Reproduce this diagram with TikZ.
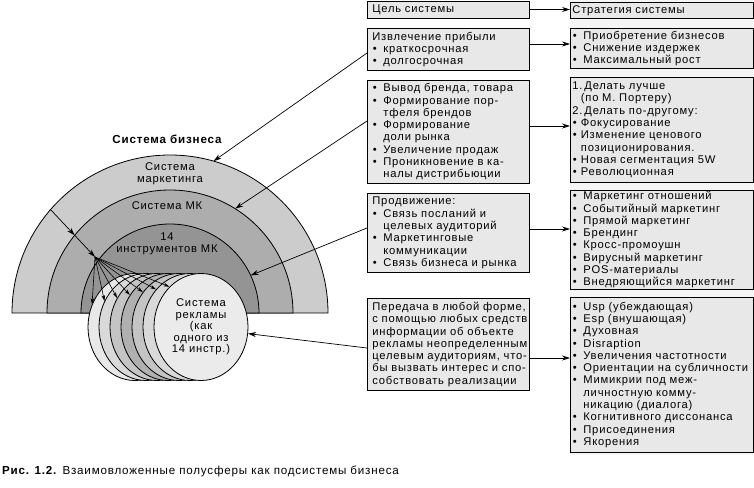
\documentclass[tikz,border=0pt]{standalone}
\usepackage{fontspec}
\setmainfont{Liberation Sans}[LetterSpace=7]
\usetikzlibrary{arrows.meta,calc,shapes.geometric}
\newcommand\fs{\fontsize{11.2}{12.3}\selectfont}
\newcommand\fl{\fontsize{11.6}{12.3}\selectfont}
\newlength\bind
\newcommand\bi[1]{\mbox{\makebox[\bind][l]{\hspace{0.5pt}\textbullet}#1}}
\newcommand\ci[1]{\mbox{\hspace*{\bind}#1}}
\newcommand\tl[1]{\mbox{#1}}
\tikzset{
  every node/.style={font=\fs, inner sep=0pt},
  lbox/.style={draw, fill=black!9, line width=0.8pt, anchor=north west,
    text width=152pt, inner xsep=5pt, inner ysep=1pt, align=left,
    execute at begin node={\setlength{\bind}{11pt}}},
  rbox/.style={draw, fill=black!9, line width=0.8pt, anchor=north west,
    text width=179pt, inner xsep=2pt, inner ysep=1pt, align=left,
    execute at begin node={\setlength{\bind}{11pt}}},
  arr/.style={-{Stealth[length=8pt,width=5pt]}, line width=0.7pt},
  farr/.style={-{Stealth[length=6pt,width=3.6pt]}, line width=0.6pt},
  ring/.style={draw, line width=0.8pt},
  ell/.style={ellipse, draw, line width=0.8pt, minimum width=94pt, minimum height=107pt, align=center},
}
\begin{document}
\begin{tikzpicture}[x=1pt,y=1pt]
\useasboundingbox (0,0) rectangle (754,-487);
% faint right column background
\fill[black!4] (570,0) rectangle (753,-455);
% half-spheres
\coordinate (C) at (170,-313);
\filldraw[ring, fill=black!20] ($(C)+(-158,0)$) arc[start angle=180, end angle=0, radius=158] -- cycle;
\filldraw[ring, fill=black!32] ($(C)+(-123,0)$) arc[start angle=180, end angle=0, radius=123] -- cycle;
\filldraw[ring, fill=black!42] ($(C)+(-89,0)$) arc[start angle=180, end angle=0, radius=89] -- cycle;
% texts on rings
\node[font=\fl] (tb) at (167,-139) {\bfseries Система бизнеса};
\node[align=center] (tm) at (170,-174) {Система\\маркетинга};
\node (tmk) at (167,-206) {Система МК};
\node[align=center] (ti) at (167,-244) {14\\инструментов МК};
% stacked discs
\node[ell, fill=black!9]  (e0) at (135,-327) {};
\node[ell, fill=black!15] (e1) at (146,-327) {};
\node[ell, fill=black!23] (e2) at (157,-327) {};
\node[ell, fill=black!31] (e3) at (168,-327) {};
\node[ell, fill=black!23] (e4) at (179,-327) {};
\node[ell, fill=black!15] (e5) at (190,-327) {};
\node[ell, fill=black!8, font={\fontsize{11.2}{11.5}\selectfont}] (e6) at (201,-327) {Система\\рекламы\\(как\\одного из\\14 инстр.)};
% arrow through the rings
\coordinate (S) at (50,-209);
\coordinate (M) at (74.7,-235.3);
\coordinate (P) at (95,-257);
\draw[arr] (S) -- (M);
\draw[arr] (M) -- (P);
\foreach \j/\a in {0/152,1/148,2/144,3/140,4/136,5/132,6/128}
  \draw[farr] (P) -- (e\j.\a);
% left boxes
\node[lbox, minimum height=17pt] (l1) at (367,-1) {\tl{Цель системы}};
\node[lbox, minimum height=42pt] (l2) at (367,-28) {\tl{Извлечение прибыли}\\\bi{краткосрочная}\\\bi{долгосрочная}};
\node[lbox, minimum height=103pt] (l3) at (367,-80) {\bi{Вывод бренда, товара}\\\bi{Формирование пор-}\\\ci{тфеля брендов}\\\bi{Формирование}\\\ci{доли рынка}\\\bi{Увеличение продаж}\\\bi{Проникновение в ка-}\\\ci{налы дистрибьюции}};
\node[lbox, minimum height=79pt] (l4) at (367,-193) {\tl{Продвижение:}\\\bi{Связь посланий и}\\\ci{целевых аудиторий}\\\bi{Маркетинговые}\\\ci{коммуникации}\\\bi{Связь бизнеса и рынка}};
\node[lbox, minimum height=92pt] (l5) at (367,-298) {\tl{Передача в любой форме,}\\\tl{с помощью любых средств}\\\tl{информации об объекте}\\\tl{рекламы неопределенным}\\\tl{целевым аудиториям, что-}\\\tl{бы вызвать интерес и спо-}\\\tl{собствовать реализации}};
% right boxes
\node[rbox, minimum height=16pt] (r1) at (570,-2) {\tl{Стратегия системы}};
\node[rbox, minimum height=40pt] (r2) at (570,-28) {\bi{Приобретение бизнесов}\\\bi{Снижение издержек}\\\bi{Максимальный рост}};
\node[rbox, minimum height=105pt, execute at begin node={\setlength{\bind}{8.5pt}}] (r3) at (570,-77) {\tl{1.\,Делать лучше}\\\ci{(по М. Портеру)}\\\tl{2.\,Делать по-другому:}\\\bi{Фокусирование}\\\bi{Изменение ценового}\\\ci{позиционирования.}\\\bi{Новая сегментация 5W}\\\bi{Революционная}};
\node[rbox, minimum height=98pt] (r4) at (570,-190) {\bi{Маркетинг отношений}\\\bi{Событийный маркетинг}\\\bi{Прямой маркетинг}\\\bi{Брендинг}\\\bi{Кросс-промоушн}\\\bi{Вирусный маркетинг}\\\bi{POS-материалы}\\\bi{Внедряющийся маркетинг}};
\node[rbox, minimum height=155pt] (r5) at (570,-297) {\bi{Usp (убеждающая)}\\\bi{Esp (внушающая)}\\\bi{Духовная}\\\bi{Disraption}\\\bi{Увеличения частотности}\\\bi{Ориентации на субличности}\\\bi{Мимикрии под меж-}\\\ci{личностную комму-}\\\ci{никацию (диалога)}\\\bi{Когнитивного диссонанса}\\\bi{Присоединения}\\\bi{Якорения}};
% arrows between columns
\coordinate (t1) at ($(l1.north east)+(0,-8.5)$);
\coordinate (t2) at ($(l2.north east)+(0,-16)$);
\coordinate (t3) at ($(l3.north east)+(0,-46)$);
\coordinate (t4) at ($(l4.north east)+(0,-36)$);
\coordinate (t5) at ($(l5.north east)+(0,-60)$);
\foreach \i in {1,...,5} \draw[arr] (t\i) -- (t\i -| r\i.west);
% connectors to the half-spheres
\coordinate (a2) at ($(C)+(74:158)$);
\coordinate (a3) at ($(C)+(58:123)$);
\coordinate (a4) at ($(C)+(25:89)$);
\draw[arr] ($(l2.north west)+(0,-25)$) -- (a2);
\draw[arr] ($(l3.north west)+(0,-41)$) -- (a3);
\draw[arr] ($(l4.north west)+(0,-35)$) -- (a4);
\draw[arr] ($(l5.north west)+(0,-50)$) -- (e6.-8);
% caption
\node[anchor=base west, font=\fl] (cap) at (2,-474) {\textbf{Рис. 1.2.} Взаимовложенные полусферы как подсистемы бизнеса};
\end{tikzpicture}
\end{document}
